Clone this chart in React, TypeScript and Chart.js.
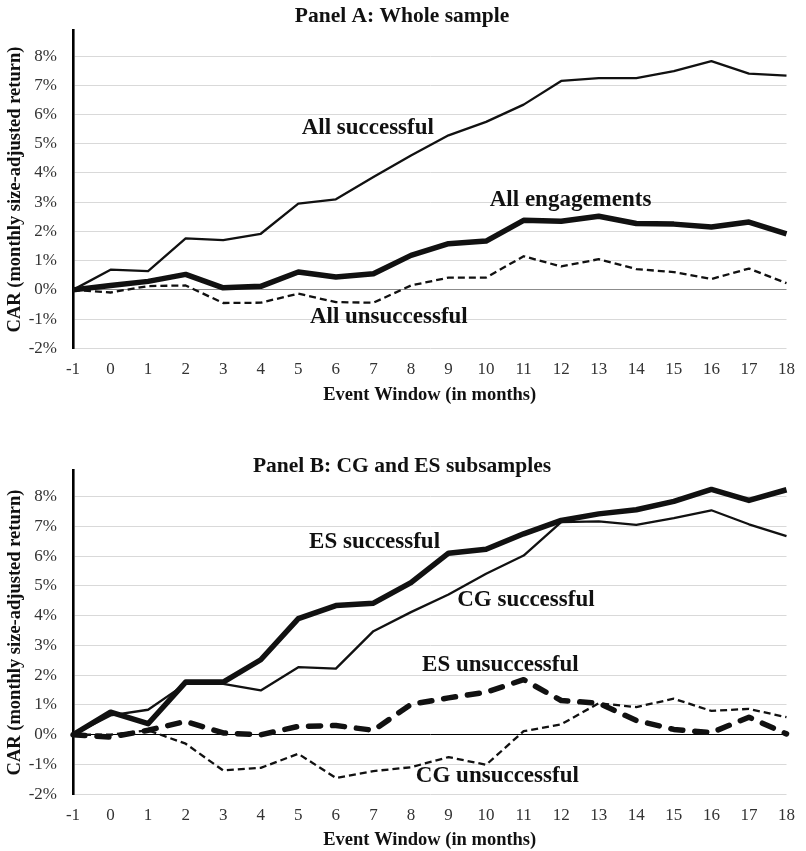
import React, { useEffect, useRef } from "react";
import { Chart, registerables } from "chart.js";

Chart.register(...registerables);

// ---------- data ----------
const months = ["-1", "0", "1", "2", "3", "4", "5", "6", "7", "8", "9", "10", "11", "12", "13", "14", "15", "16", "17", "18"];

// Panel A (CAR, %)
const allSuccessful = [0, 0.69, 0.64, 1.76, 1.7, 1.92, 2.95, 3.1, 3.86, 4.6, 5.29, 5.75, 6.34, 7.15, 7.25, 7.25, 7.49, 7.83, 7.4, 7.33];
const allEngagements = [0, 0.15, 0.29, 0.53, 0.07, 0.12, 0.61, 0.44, 0.55, 1.18, 1.58, 1.67, 2.38, 2.35, 2.52, 2.27, 2.25, 2.15, 2.32, 1.92];
const allUnsuccessful = [0, -0.09, 0.13, 0.15, -0.45, -0.44, -0.13, -0.42, -0.44, 0.15, 0.42, 0.42, 1.15, 0.8, 1.05, 0.71, 0.61, 0.37, 0.73, 0.23];

// Panel B (CAR, %)
const esSuccessful = [0, 0.76, 0.37, 1.77, 1.77, 2.52, 3.9, 4.34, 4.42, 5.11, 6.1, 6.23, 6.75, 7.2, 7.42, 7.56, 7.84, 8.24, 7.87, 8.23];
const cgSuccessful = [0, 0.65, 0.84, 1.71, 1.71, 1.49, 2.27, 2.22, 3.48, 4.12, 4.71, 5.41, 6.02, 7.14, 7.17, 7.05, 7.28, 7.54, 7.07, 6.67];
const esUnsuccessful = [0, -0.08, 0.15, 0.45, 0.06, 0.0, 0.28, 0.31, 0.15, 1.02, 1.24, 1.43, 1.85, 1.15, 1.06, 0.48, 0.18, 0.07, 0.59, 0.03];
const cgUnsuccessful = [0, 0.0, 0.15, -0.3, -1.2, -1.11, -0.64, -1.45, -1.22, -1.09, -0.75, -1.01, 0.12, 0.35, 1.06, 0.93, 1.21, 0.8, 0.87, 0.59];

const yMin = -2;
const yMax = 8.87;
const yStep = 1;

const panelATitle = "Panel A: Whole sample";
const panelBTitle = "Panel B: CG and ES subsamples";
const yAxisTitle = "CAR (monthly size-adjusted return)";
const xAxisTitle = "Event Window (in months)";

// inline series labels, anchored in data coordinates (month, CAR %)
const panelALabelText = ["All successful", "All engagements", "All unsuccessful"];
const panelALabelMonth = [6.85, 12.25, 7.41];
const panelALabelValue = [5.53, 3.07, -0.94];

const panelBLabelText = ["ES successful", "CG successful", "ES unsuccessful", "CG unsuccessful"];
const panelBLabelMonth = [7.03, 11.06, 10.38, 10.3];
const panelBLabelValue = [6.48, 4.52, 2.34, -1.39];

// ---------- styling ----------
const FONT = "'Liberation Serif', 'Times New Roman', serif";
const INK = "#111111";

const thinSolid = { borderColor: INK, borderWidth: 2.3, borderDash: [] as number[], borderCapStyle: "butt" as const };
const thickSolid = { borderColor: INK, borderWidth: 5.5, borderDash: [] as number[], borderCapStyle: "butt" as const };
const thinDash = { borderColor: INK, borderWidth: 2.3, borderDash: [7, 4], borderCapStyle: "butt" as const };
const thickDash = { borderColor: INK, borderWidth: 5.5, borderDash: [12, 12], borderCapStyle: "round" as const };

type PanelOpts = {
  title: string;
  titleY: number;
  padTop: number;
  xHeight: number;
  xTitlePad: number;
  zeroColor: string;
  labelText: string[];
  labelMonth: number[];
  labelValue: number[];
  datasets: any[];
};

function buildConfig(o: PanelOpts): any {
  const overlay = {
    id: "overlay",
    afterDatasetsDraw(chart: any) {
      const ctx = chart.ctx;
      const xs = chart.scales.x;
      const ys = chart.scales.y;
      ctx.save();
      ctx.fillStyle = INK;
      ctx.textAlign = "center";
      ctx.textBaseline = "middle";
      ctx.font = `bold 23px ${FONT}`;
      o.labelText.forEach((t, i) => {
        const px = xs.getPixelForValue(o.labelMonth[i] + 1);
        const py = ys.getPixelForValue(o.labelValue[i]);
        ctx.fillText(t, px, py);
      });
      ctx.font = `bold 21.5px ${FONT}`;
      ctx.fillText(o.title, chart.width / 2 - 1, o.titleY);
      ctx.restore();
    },
  };

  return {
    type: "line",
    data: {
      labels: months,
      datasets: o.datasets.map((d) => ({
        ...d,
        fill: false,
        pointRadius: 0,
        pointHoverRadius: 0,
        tension: 0,
        borderJoinStyle: "round",
        clip: false,
      })),
    },
    options: {
      animation: false,
      responsive: false,
      devicePixelRatio: 1,
      events: [],
      layout: { padding: { top: o.padTop, right: 9, left: 0, bottom: 0 } },
      plugins: {
        legend: { display: false },
        title: { display: false },
        tooltip: { enabled: false },
      },
      scales: {
        x: {
          type: "category",
          offset: false,
          grid: { display: false, drawTicks: false },
          border: { display: false },
          ticks: {
            autoSkip: false,
            maxRotation: 0,
            minRotation: 0,
            padding: 11,
            color: "#333333",
            font: { family: FONT, size: 17 },
          },
          title: {
            display: true,
            text: xAxisTitle,
            color: INK,
            font: { family: FONT, size: 18.5, weight: "bold" },
            padding: { top: 0, bottom: o.xTitlePad },
          },
          afterFit: (s: any) => {
            s.height = o.xHeight;
          },
        },
        y: {
          type: "linear",
          min: yMin,
          max: yMax,
          grid: {
            drawTicks: false,
            lineWidth: 1,
            color: (c: any) => {
              const v = c.tick ? c.tick.value : null;
              if (v === 0) return o.zeroColor;
              if (v !== null && v > 8.5) return "rgba(0,0,0,0)";
              return "#d9d9d9";
            },
          },
          border: { display: true, color: "#000000", width: 2.6 },
          ticks: {
            stepSize: yStep,
            includeBounds: false,
            padding: 16,
            color: "#333333",
            font: { family: FONT, size: 17 },
            callback: (v: any) => `${Math.round(Number(v))}%`,
          },
          title: {
            display: true,
            text: yAxisTitle,
            color: INK,
            font: { family: FONT, size: 18.5, weight: "bold" },
            padding: { top: 4, bottom: 0 },
          },
          afterFit: (s: any) => {
            s.width = 73;
          },
        },
      },
    },
    plugins: [overlay],
  };
}

function Panel(props: { opts: PanelOpts; top: number; height: number }) {
  const ref = useRef<HTMLCanvasElement | null>(null);
  useEffect(() => {
    if (!ref.current) return;
    const chart = new Chart(ref.current, buildConfig(props.opts));
    return () => chart.destroy();
  }, []);
  return (
    <canvas
      ref={ref}
      width={806}
      height={props.height}
      style={{ position: "absolute", left: 0, top: props.top, width: 806, height: props.height, display: "block" }}
    />
  );
}

export default function App() {
  const panelA: PanelOpts = {
    title: panelATitle,
    titleY: 16,
    padTop: 30.7,
    xHeight: 61.7,
    xTitlePad: 4,
    zeroColor: "#8c8c8c",
    labelText: panelALabelText,
    labelMonth: panelALabelMonth,
    labelValue: panelALabelValue,
    datasets: [
      { label: "All successful", data: allSuccessful, ...thinSolid },
      { label: "All unsuccessful", data: allUnsuccessful, ...thinDash },
      { label: "All engagements", data: allEngagements, ...thickSolid },
    ],
  };
  const panelB: PanelOpts = {
    title: panelBTitle,
    titleY: 56,
    padTop: 60.7,
    xHeight: 56.7,
    xTitlePad: 0,
    zeroColor: "#000000",
    labelText: panelBLabelText,
    labelMonth: panelBLabelMonth,
    labelValue: panelBLabelValue,
    datasets: [
      { label: "CG successful", data: cgSuccessful, ...thinSolid },
      { label: "CG unsuccessful", data: cgUnsuccessful, ...thinDash },
      { label: "ES successful", data: esSuccessful, ...thickSolid },
      { label: "ES unsuccessful", data: esUnsuccessful, ...thickDash },
    ],
  };
  return (
    <div style={{ position: "fixed", left: 0, top: 0, width: 806, height: 851, background: "#ffffff", overflow: "hidden" }}>
      <Panel opts={panelA} top={0} height={410} />
      <Panel opts={panelB} top={410} height={441} />
    </div>
  );
}
